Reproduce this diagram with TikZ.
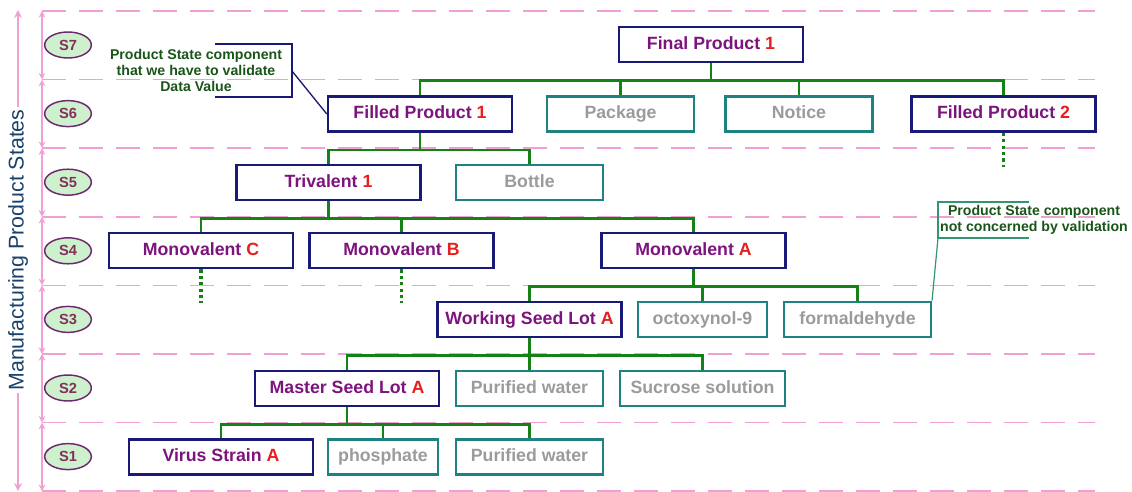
\documentclass[tikz,border=0pt]{standalone}
\usepackage{fontspec}
\setmainfont{Liberation Sans}
\usetikzlibrary{shapes.geometric,arrows.meta}

\definecolor{navy}{RGB}{25,25,120}
\definecolor{compteal}{RGB}{30,130,130}
\definecolor{compgray}{RGB}{155,155,155}
\definecolor{linkgreen}{RGB}{20,130,20}
\definecolor{prodpurple}{RGB}{125,20,125}
\definecolor{tagred}{RGB}{230,30,30}
\definecolor{levelpink}{RGB}{240,160,210}
\definecolor{stategreen}{RGB}{205,240,205}
\definecolor{statepurple}{RGB}{110,40,110}
\definecolor{statered}{RGB}{130,50,90}
\definecolor{notegreen}{RGB}{25,85,25}
\definecolor{axisblue}{RGB}{25,65,105}
\definecolor{skipgreen}{RGB}{50,150,110}

\newcommand\lbl[2]{#1 \textcolor{tagred}{#2}}

\begin{document}
\begin{tikzpicture}[x=0.75pt,y=-0.75pt,
  prod/.style={draw=navy,fill=white,line width=1.8pt,minimum width=138pt,minimum height=26.5pt,inner sep=0pt,text height=9.6pt,text depth=2.8pt,text=prodpurple,font=\fontsize{13.3}{15}\selectfont\bfseries},
  comp/.style={draw=compteal,fill=white,line width=1.8pt,minimum height=26.5pt,inner sep=0pt,text height=9.6pt,text depth=2.8pt,text=compgray,font=\fontsize{13.3}{15}\selectfont\bfseries},
  link/.style={draw=linkgreen,line width=2pt},
  stub/.style={draw=linkgreen,line width=2.4pt,dash pattern=on 2.4pt off 2.4pt},
  level/.style={draw=levelpink,line width=1.2pt,dash pattern=on 18pt off 9.75pt},
  axis/.style={draw=levelpink,line width=1.5pt},
  state/.style={ellipse,draw=statepurple,fill=stategreen,line width=1.1pt,minimum width=35pt,minimum height=19.5pt,inner sep=0pt,text=statered,font=\fontsize{11}{12}\selectfont\bfseries},
  note/.style={align=center,text=notegreen,inner sep=1pt,font=\fontsize{10.6}{12}\selectfont\bfseries},
  callout/.style={draw=navy,line width=1pt},
  skipline/.style={draw=skipgreen,line width=0.9pt}]
\useasboundingbox (0,0) rectangle (1132,492);

% levels
\foreach \k in {0,...,7}
{
  \draw[level] (42,{11+68.6*\k}) -- (1095,{11+68.6*\k});
}
\foreach \k in {0,...,6}
{
  \draw[axis,{Stealth[length=5pt,width=5pt]}-{Stealth[length=5pt,width=5pt]}] (42,{11+68.6*\k}) -- (42,{79.6+68.6*\k});
}
\foreach \k in {1,...,7}
{
  \node[state] (s\k) at (68,{45+68.6*(7-\k)}) {S\k};
}

\node[rotate=90,text=axisblue,inner sep=2pt,font=\fontsize{16}{18}\selectfont] (axlbl) at (18,250) {Manufacturing Product States};
\coordinate (axtop) at (18,10);
\coordinate (axbot) at (18,491);
\draw[axis,-{Stealth[length=6pt,width=6pt]}] (axlbl.east) -- (axtop);
\draw[axis,-{Stealth[length=6pt,width=6pt]}] (axlbl.west) -- (axbot);

% product states
\node[prod] (fp1) at (711,44.5) {\lbl{Final Product}{1}};
\node[prod] (fil1) at (420,114) {\lbl{Filled Product}{1}};
\node[comp,minimum width=110pt] (pack) at (620.5,114) {Package};
\node[comp,minimum width=110pt] (notice) at (799,114) {Notice};
\node[prod] (fil2) at (1003.5,114) {\lbl{Filled Product}{2}};
\node[prod] (tri) at (328.5,182.5) {\lbl{Trivalent}{1}};
\node[comp,minimum width=110pt] (bottle) at (529.5,182.5) {Bottle};
\node[prod] (monoC) at (201,250.5) {\lbl{Monovalent}{C}};
\node[prod] (monoB) at (401.5,250.5) {\lbl{Monovalent}{B}};
\node[prod] (monoA) at (693.5,250.5) {\lbl{Monovalent}{A}};
\node[prod] (wsl) at (529.5,319.5) {\lbl{Working Seed Lot}{A}};
\node[comp,minimum width=97pt] (octo) at (702.5,319.5) {octoxynol-9};
\node[comp,minimum width=110pt] (form) at (857.5,319.5) {formaldehyde};
\node[prod] (msl) at (347,388.5) {\lbl{Master Seed Lot}{A}};
\node[comp,minimum width=110pt] (water2) at (529.5,388.5) {Purified water};
\node[comp,minimum width=124pt] (sucrose) at (702.5,388.5) {Sucrose solution};
\node[prod] (virus) at (221,457) {\lbl{Virus Strain}{A}};
\node[comp,minimum width=82.5pt] (phos) at (383,457) {phosphate};
\node[comp,minimum width=110pt] (water1) at (529.5,457) {Purified water};

% tree
\foreach \c in {fil1,pack,notice,fil2}
  \draw[link] (fp1.south) -- ++(0,17) -| (\c.north);
\foreach \c in {tri,bottle}
  \draw[link] (fil1.south) -- ++(0,17) -| (\c.north);
\foreach \c in {monoC,monoB,monoA}
  \draw[link] (tri.south) -- ++(0,17) -| (\c.north);
\foreach \c in {wsl,octo,form}
  \draw[link] (monoA.south) -- ++(0,17) -| (\c.north);
\foreach \c in {msl,water2,sucrose}
  \draw[link] (wsl.south) -- ++(0,17) -| (\c.north);
\foreach \c in {virus,phos,water1}
  \draw[link] (msl.south) -- ++(0,17) -| (\c.north);
\foreach \c in {monoC,monoB,fil2}
  \draw[stub] (\c.south) -- ++(0,34);

% notes
\node[note] (validnote) at (196,70) {Product State component\\that we have to validate\\Data Value};
\draw[callout] (215,44) -| (292,97) -- (215,97);
\coordinate (validtip) at (292,71);
\draw[callout] (validtip) -- (fil1.west);

\node[note] (skipnote) at (1034,220) {Product State component\\not concerned by validation};
\coordinate (skiptip) at (938,238);
\draw[skipline] (1029,202) -- (938,202) -- (skiptip) -- (1029,238);
\draw[skipline] (skiptip) -- (form.north east);
\end{tikzpicture}
\end{document}
